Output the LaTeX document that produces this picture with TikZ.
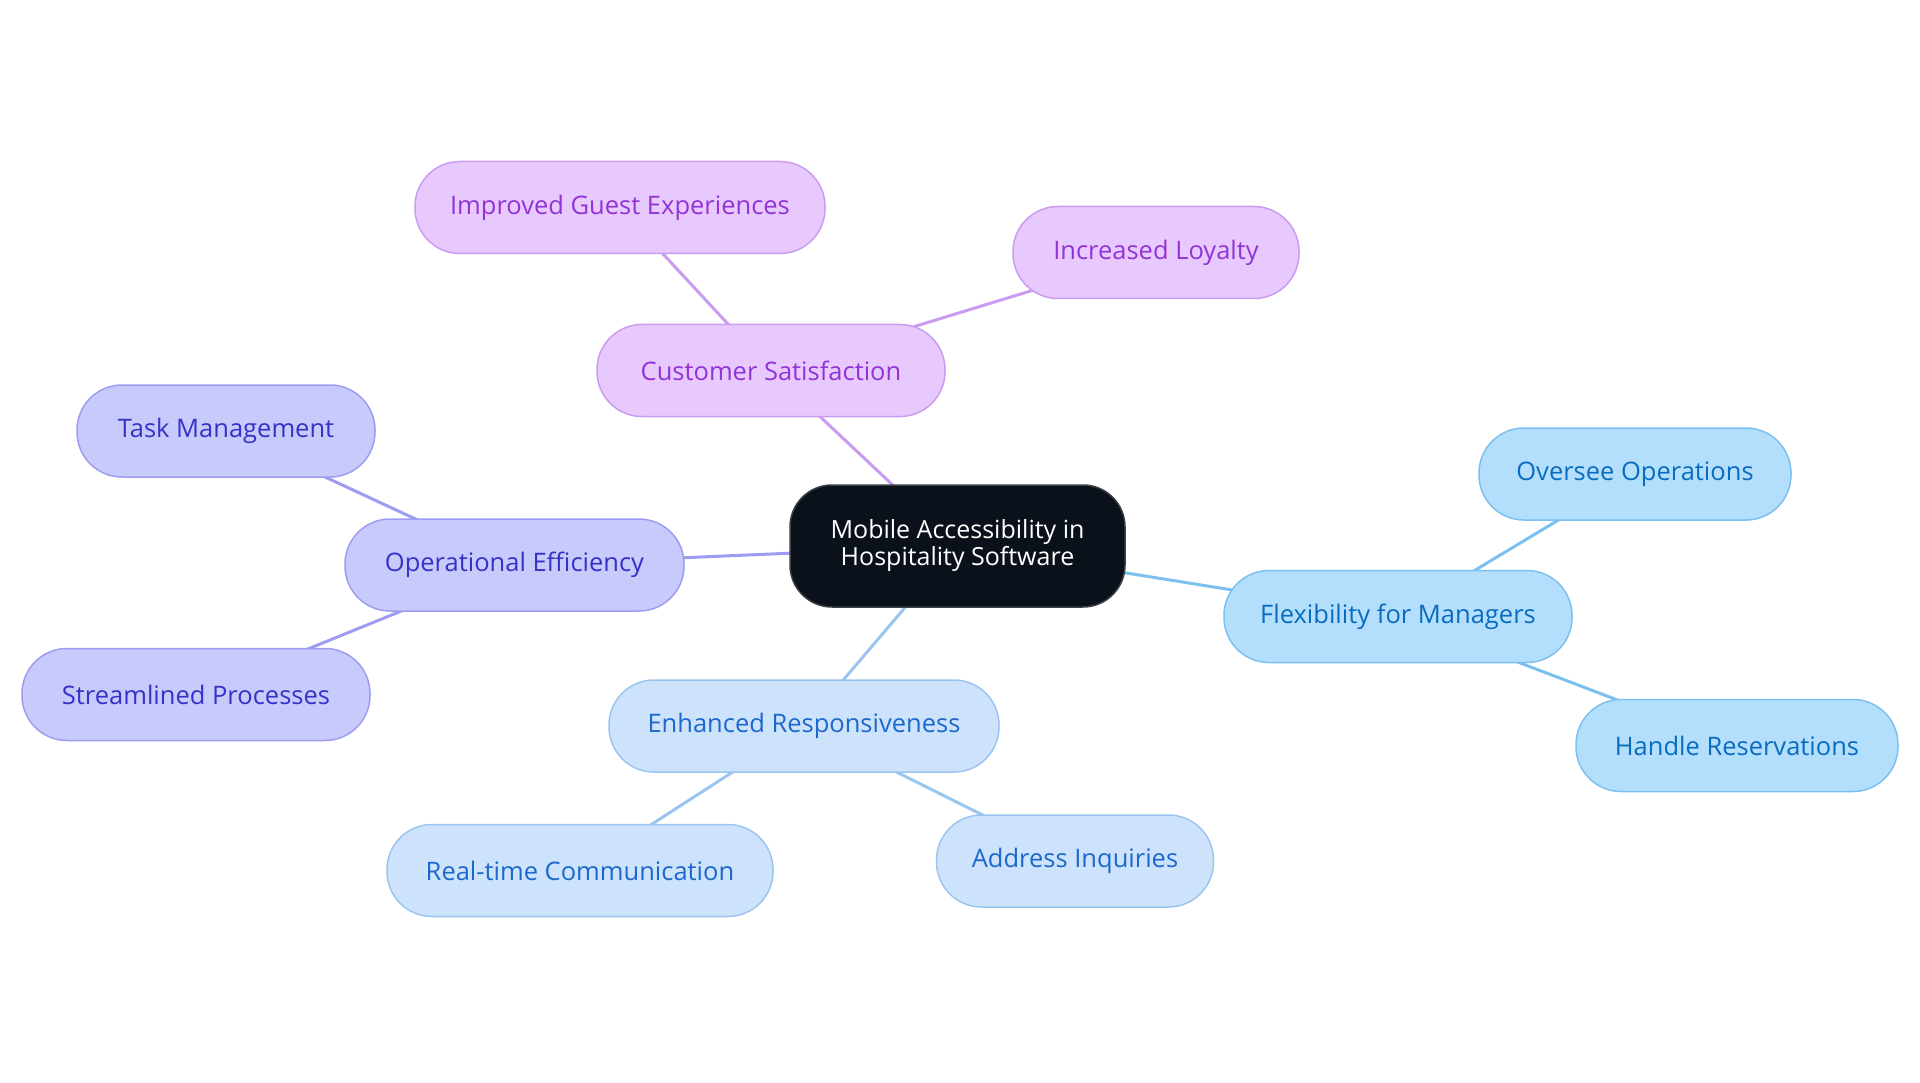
\documentclass[tikz,border=0pt]{standalone}
\usepackage{fontspec}
\setmainfont{Open Sans}
\usetikzlibrary{backgrounds}
\definecolor{purFill}{HTML}{E8C9FD}
\definecolor{purLine}{HTML}{C99BF1}
\definecolor{purText}{HTML}{9233D6}
\definecolor{indFill}{HTML}{C8CAFC}
\definecolor{indLine}{HTML}{9C9DF0}
\definecolor{indText}{HTML}{3532C8}
\definecolor{skyFill}{HTML}{B3DFFD}
\definecolor{skyLine}{HTML}{7CC0F0}
\definecolor{skyText}{HTML}{0A6CBE}
\definecolor{pblFill}{HTML}{CDE3FB}
\definecolor{pblLine}{HTML}{9CC4F0}
\definecolor{pblText}{HTML}{1C68CE}
\definecolor{ctrFill}{HTML}{0B111A}
\definecolor{ctrLine}{HTML}{3A3F46}
\tikzset{
  pill/.style={draw, line width=1.5pt, rounded corners=45pt, minimum height=92pt,
    inner xsep=0pt, align=center, font=\fontsize{25.5}{29}\selectfont},
  pur/.style={pill, fill=purFill, draw=purLine, text=purText},
  ind/.style={pill, fill=indFill, draw=indLine, text=indText},
  sky/.style={pill, fill=skyFill, draw=skyLine, text=skyText},
  pbl/.style={pill, fill=pblFill, draw=pblLine, text=pblText},
  ctr/.style={draw=ctrLine, line width=1.5pt, fill=ctrFill, text=white, rounded corners=42pt,
    minimum width=335pt, minimum height=122pt, align=center, inner xsep=0pt,
    font=\fontsize{25}{27}\selectfont},
  link/.style={line width=3pt},
}
\begin{document}
\begin{tikzpicture}[x=1pt,y=-1pt]
\useasboundingbox (0,0) rectangle (1920,1083);
\node[ctr] (c) at (957.5,546) {Mobile Accessibility in\\Hospitality Software};
\node[pur, minimum width=348pt] (cs) at (771,370.5) {Customer Satisfaction};
\node[pur, minimum width=410pt] (ig) at (620,207.5) {Improved Guest Experiences};
\node[pur, minimum width=286pt] (il) at (1156,252.5) {Increased Loyalty};
\node[ind, minimum width=339pt] (oe) at (514.5,565) {Operational Efficiency};
\node[ind, minimum width=298pt] (tm) at (226,431) {Task Management};
\node[ind, minimum width=348pt] (sp) at (196,694.5) {Streamlined Processes};
\node[sky, minimum width=348pt] (fm) at (1398,616.5) {Flexibility for Managers};
\node[sky, minimum width=312pt] (oo) at (1635,474) {Oversee Operations};
\node[sky, minimum width=322pt] (hr) at (1737,745.5) {Handle Reservations};
\node[pbl, minimum width=390pt] (er) at (804,726) {Enhanced Responsiveness};
\node[pbl, minimum width=386pt] (rc) at (580,870.5) {Real-time Communication};
\node[pbl, minimum width=277pt] (ai) at (1075,861) {Address Inquiries};
\begin{scope}[on background layer]
\draw[link, purLine] (c.center) -- (cs.center);
\draw[link, purLine] (cs.center) -- (ig.center);
\draw[link, purLine] (cs.center) -- (il.center);
\draw[link, indLine] (c.center) -- (oe.center);
\draw[link, indLine] (oe.center) -- (tm.center);
\draw[link, indLine] (oe.center) -- (sp.center);
\draw[link, skyLine] (c.center) -- (fm.center);
\draw[link, skyLine] (fm.center) -- (oo.center);
\draw[link, skyLine] (fm.center) -- (hr.center);
\draw[link, pblLine] (c.center) -- (er.center);
\draw[link, pblLine] (er.center) -- (rc.center);
\draw[link, pblLine] (er.center) -- (ai.center);
\end{scope}
\end{tikzpicture}
\end{document}
